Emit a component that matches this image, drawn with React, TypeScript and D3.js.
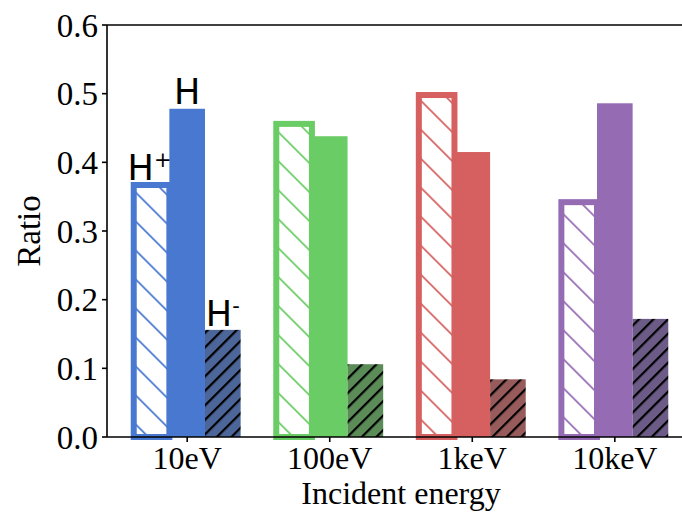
import React from "react";
import * as d3 from "d3";

const categories = ["10eV", "100eV", "1keV", "10keV"];
const hPlus = [0.367, 0.456, 0.498, 0.342];
const hNeutral = [0.478, 0.438, 0.415, 0.486];
const hMinus = [0.156, 0.106, 0.084, 0.172];
const colors = ["#4878d0", "#6acc64", "#d65f5f", "#956cb4"];
const darkColors = ["#4c6699", "#5b8c57", "#985b5b", "#6b5b86"];
const yTicks = [0, 0.1, 0.2, 0.3, 0.4, 0.5, 0.6];

const W = 682;
const H = 513;
const left = 107;
const top = 25;
const bottom = 437;
const right = 695;
const barW = 0.25;

export default function App() {
  const x = d3.scaleLinear().domain([-0.5625, 3.5625]).range([left, right]);
  const y = d3.scaleLinear().domain([0, 0.6]).range([bottom, top]);
  const bw = x(barW) - x(0);
  const serif = "'Liberation Serif', 'Times New Roman', serif";
  const sans = "'DejaVu Sans', sans-serif";

  return (
    <div style={{ position: "absolute", left: 0, top: 0 }}>
      <svg width={W} height={H} style={{ display: "block", background: "#fff" }}>
        <defs>
          {colors.map((c, i) => (
            <pattern
              key={"hp" + i}
              id={"hp" + i}
              patternUnits="userSpaceOnUse"
              width={20.5}
              height={20.5}
              patternTransform="rotate(-45)"
            >
              <rect x={0} y={0} width={20.5} height={20.5} fill="#fff" />
              <rect x={0} y={0} width={1.7} height={20.5} fill={c} />
            </pattern>
          ))}
          {darkColors.map((c, i) => (
            <pattern
              key={"hm" + i}
              id={"hm" + i}
              patternUnits="userSpaceOnUse"
              width={10.25}
              height={10.25}
              patternTransform="rotate(45)"
            >
              <rect x={0} y={0} width={10.25} height={10.25} fill={c} />
              <rect x={0} y={0} width={2.2} height={10.25} fill="#000" />
            </pattern>
          ))}
        </defs>

        {categories.map((cat, i) => {
          const x0 = x(i - 1.5 * barW);
          const x1 = x(i - 0.5 * barW);
          const x2 = x(i + 0.5 * barW);
          return (
            <g key={cat}>
              <rect
                x={x0}
                y={y(hPlus[i])}
                width={bw}
                height={bottom - y(hPlus[i])}
                fill={`url(#hp${i})`}
                stroke={colors[i]}
                strokeWidth={6}
              />
              <rect
                x={x1}
                y={y(hNeutral[i])}
                width={bw}
                height={bottom - y(hNeutral[i])}
                fill={colors[i]}
              />
              <rect
                x={x2}
                y={y(hMinus[i])}
                width={bw}
                height={bottom - y(hMinus[i])}
                fill={`url(#hm${i})`}
              />
            </g>
          );
        })}

        {/* species labels on first group */}
        <text x={x(-barW) - 2} y={y(hPlus[0]) - 5} textAnchor="middle" fontFamily={sans} fontSize={35} fill="#000">
          H<tspan fontSize={21} dy={-13}>+</tspan>
        </text>
        <text x={x(0)} y={y(hNeutral[0]) - 5} textAnchor="middle" fontFamily={sans} fontSize={35} fill="#000">
          H
        </text>
        <text x={x(barW)} y={y(hMinus[0]) - 4} textAnchor="middle" fontFamily={sans} fontSize={35} fill="#000">
          H<tspan fontSize={21} dy={-13}>-</tspan>
        </text>

        {/* spines */}
        <g stroke="#000" strokeWidth={1.6} fill="none">
          <line x1={left} x2={left} y1={top} y2={bottom} />
          <line x1={left} x2={right} y1={bottom} y2={bottom} />
          <line x1={left} x2={right} y1={top} y2={top} />
          <line x1={right} x2={right} y1={top} y2={bottom} />
        </g>

        {/* y ticks */}
        {yTicks.map((t) => (
          <g key={t}>
            <line x1={left - 5} x2={left} y1={y(t)} y2={y(t)} stroke="#000" strokeWidth={1.6} />
            <text
              x={left - 9}
              y={y(t)}
              dy="0.35em"
              textAnchor="end"
              fontFamily={serif}
              fontSize={33}
              fill="#000"
            >
              {t.toFixed(1)}
            </text>
          </g>
        ))}

        {/* x ticks */}
        {categories.map((cat, i) => (
          <g key={cat}>
            <line x1={x(i)} x2={x(i)} y1={bottom} y2={bottom + 5} stroke="#000" strokeWidth={1.6} />
            <text x={x(i)} y={469} textAnchor="middle" fontFamily={serif} fontSize={32} fill="#000">
              {cat}
            </text>
          </g>
        ))}

        <text x={(left + right) / 2} y={504} textAnchor="middle" fontFamily={serif} fontSize={32} fill="#000">
          Incident energy
        </text>
        <text
          transform={`translate(40, ${(top + bottom) / 2}) rotate(-90)`}
          textAnchor="middle"
          fontFamily={serif}
          fontSize={33}
          fill="#000"
        >
          Ratio
        </text>
      </svg>
    </div>
  );
}
